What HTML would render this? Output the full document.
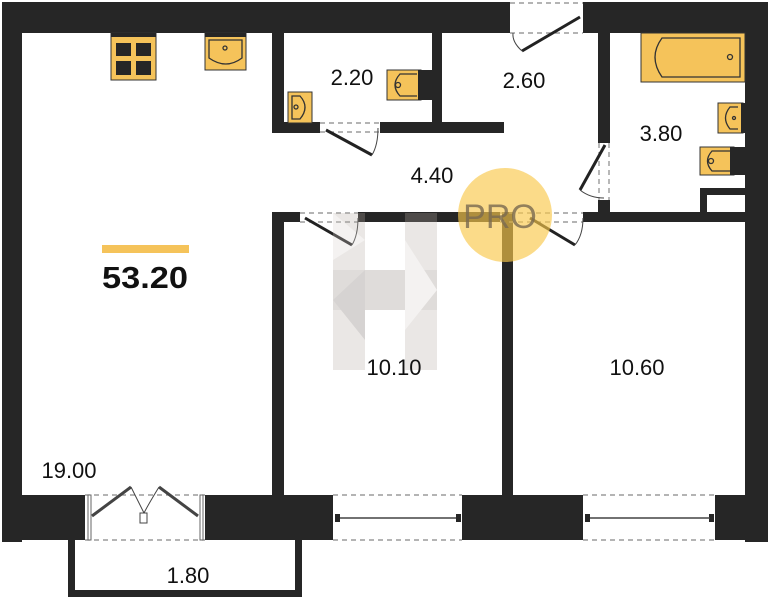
<!DOCTYPE html>
<html><head><meta charset="utf-8"><style>
html,body{margin:0;padding:0;background:#fff;width:770px;height:600px;overflow:hidden}
</style></head><body>
<svg width="770" height="600" viewBox="0 0 770 600" xmlns="http://www.w3.org/2000/svg" font-family="Liberation Sans, sans-serif">
<g fill="#262626">
<rect x="2" y="2" width="508" height="31"/>
<rect x="583" y="2" width="185" height="31"/>
<rect x="2" y="2" width="20" height="540"/>
<rect x="745" y="2" width="23" height="540"/>
<rect x="2" y="495" width="83" height="45"/>
<rect x="205" y="495" width="128" height="45"/>
<rect x="462" y="495" width="121" height="45"/>
<rect x="715" y="495" width="53" height="45"/>
<rect x="68" y="540" width="7" height="57"/>
<rect x="295" y="540" width="7" height="57"/>
<rect x="68" y="590" width="234" height="7"/>
<rect x="272" y="33" width="12" height="100"/>
<rect x="272" y="122" width="48" height="11"/>
<rect x="380" y="122" width="124" height="11"/>
<rect x="432" y="33" width="10" height="92"/>
<rect x="598" y="33" width="12" height="110"/>
<rect x="598" y="200" width="12" height="22"/>
<rect x="272" y="212" width="12" height="283"/>
<rect x="272" y="212" width="28" height="10"/>
<rect x="358" y="212" width="142" height="10"/>
<rect x="583" y="212" width="162" height="10"/>
<rect x="502" y="212" width="11" height="283"/>
<rect x="700" y="188" width="45" height="7"/>
<rect x="700" y="188" width="7" height="24"/>
<rect x="335" y="514" width="5" height="8"/><rect x="456" y="514" width="5" height="8"/>
<rect x="585" y="514" width="5" height="8"/><rect x="709" y="514" width="5" height="8"/>
</g>
<g stroke="#888" stroke-dasharray="5,4" stroke-width="1.2" fill="none">
<line x1="510" y1="3" x2="583" y2="3"/><line x1="510" y1="33" x2="583" y2="33"/>
<line x1="320" y1="123" x2="380" y2="123"/><line x1="320" y1="132" x2="380" y2="132"/>
<line x1="300" y1="213" x2="358" y2="213"/><line x1="300" y1="222" x2="358" y2="222"/>
<line x1="500" y1="213" x2="583" y2="213"/><line x1="500" y1="222" x2="583" y2="222"/>
<line x1="599" y1="143" x2="599" y2="200"/><line x1="609" y1="143" x2="609" y2="200"/>
<line x1="85" y1="495" x2="205" y2="495"/><line x1="85" y1="540" x2="205" y2="540"/>
<line x1="333" y1="495" x2="462" y2="495"/><line x1="333" y1="540" x2="462" y2="540"/>
<line x1="583" y1="495" x2="715" y2="495"/><line x1="583" y1="540" x2="715" y2="540"/>
</g>
<g stroke="#222" stroke-width="3">
<line x1="580" y1="17" x2="522" y2="51"/>
<line x1="326" y1="130" x2="372" y2="155"/>
<line x1="305" y1="218" x2="352" y2="245"/>
<line x1="530" y1="218" x2="575" y2="245"/>
<line x1="605" y1="145" x2="580" y2="190"/>
</g>
<g stroke="#444" stroke-width="1" fill="none">
<path d="M522 51 Q512 42 513 33"/><path d="M372 155 Q378 145 378 128"/>
<path d="M352 245 Q358 235 358 218"/><path d="M575 245 Q583 235 583 218"/>
<path d="M580 190 Q590 198 604 198"/>
<line x1="340" y1="518" x2="456" y2="518" stroke-width="1.5"/>
<line x1="590" y1="518" x2="710" y2="518" stroke-width="1.5"/>
<path d="M92 516 L131 487 M198 516 L159 487" stroke-width="3"/>
<path d="M131 487 Q140 505 144 513 Q148 505 159 487"/>
<rect x="140" y="513" width="7" height="10" fill="#fff"/>
</g>
<rect x="88" y="495" width="3" height="45" fill="#fff" stroke="#666"/>
<rect x="200" y="495" width="3" height="45" fill="#fff" stroke="#666"/>
<g fill="#f5c35a" stroke="#333" stroke-width="1">
<rect x="111" y="33" width="45" height="47"/>
<rect x="205" y="33" width="41" height="37"/>
<rect x="288" y="92" width="24" height="31"/>
<rect x="387" y="70" width="34" height="30"/>
<rect x="641" y="33" width="104" height="49"/>
<rect x="718" y="103" width="25" height="30"/>
<rect x="700" y="147" width="34" height="28"/>
</g>
<g fill="#262626">
<rect x="116" y="43" width="15" height="13"/><rect x="136" y="43" width="15" height="13"/>
<rect x="116" y="61" width="15" height="14"/><rect x="136" y="61" width="15" height="14"/>
<rect x="111" y="33" width="45" height="4"/><rect x="205" y="33" width="41" height="4"/>
<rect x="418" y="70" width="14" height="30"/><rect x="730" y="147" width="15" height="28"/>
<rect x="741" y="103" width="4" height="30"/>
</g>
<g fill="none" stroke="#333" stroke-width="1.3">
<path d="M209 40 L242 40 L242 58 Q226 70 209 58 Z"/>
<path d="M292 96 L300 96 Q310 107 300 119 L292 119 Z"/>
<path d="M417 74 L400 74 Q390 85 400 96 L417 96"/>
<path d="M730 151 L712 151 Q703 161 712 171 L730 171"/>
<path d="M738 107 L730 107 Q721 118 730 129 L738 129"/>
<path d="M662 38 L740 38 L740 77 L662 77 Q648 57 662 38 Z"/>
<circle cx="225" cy="48" r="2"/><circle cx="296" cy="107" r="2"/><circle cx="398" cy="85" r="2.5"/>
<circle cx="711" cy="161" r="2.5"/><circle cx="734" cy="118" r="1.5"/><circle cx="730" cy="57" r="2.5"/>
</g>
<g opacity="0.28">
<polygon points="333,213 365,213 365,370 333,370" fill="#b5aca5"/>
<polygon points="405,213 437,213 437,370 405,370" fill="#b5aca5"/>
<polygon points="333,270 437,270 437,310 333,310" fill="#8f857e"/>
<polygon points="333,300 365,270 365,340" fill="#6f655f"/>
<polygon points="405,240 437,290 405,330" fill="#d9d3cf"/>
<polygon points="333,213 365,240 333,260" fill="#d9d3cf"/>
</g>
<circle cx="505" cy="215" r="47" fill="#f9c84a" opacity="0.65"/>
<text x="500" y="228" font-size="34" fill="#7a6a50" opacity="0.8" text-anchor="middle">PRO</text>
<rect x="102" y="245" width="87" height="8" fill="#f5c35a"/>
<text x="102" y="288" font-size="31" font-weight="bold" fill="#111" textLength="86" lengthAdjust="spacingAndGlyphs">53.20</text>
<g font-size="22" fill="#111" text-anchor="middle">
<text x="352" y="85">2.20</text>
<text x="524" y="88">2.60</text>
<text x="661" y="141">3.80</text>
<text x="432" y="183">4.40</text>
<text x="394" y="375">10.10</text>
<text x="637" y="375">10.60</text>
<text x="69" y="478">19.00</text>
<text x="188" y="583">1.80</text>
</g>
</svg>
</body></html>
